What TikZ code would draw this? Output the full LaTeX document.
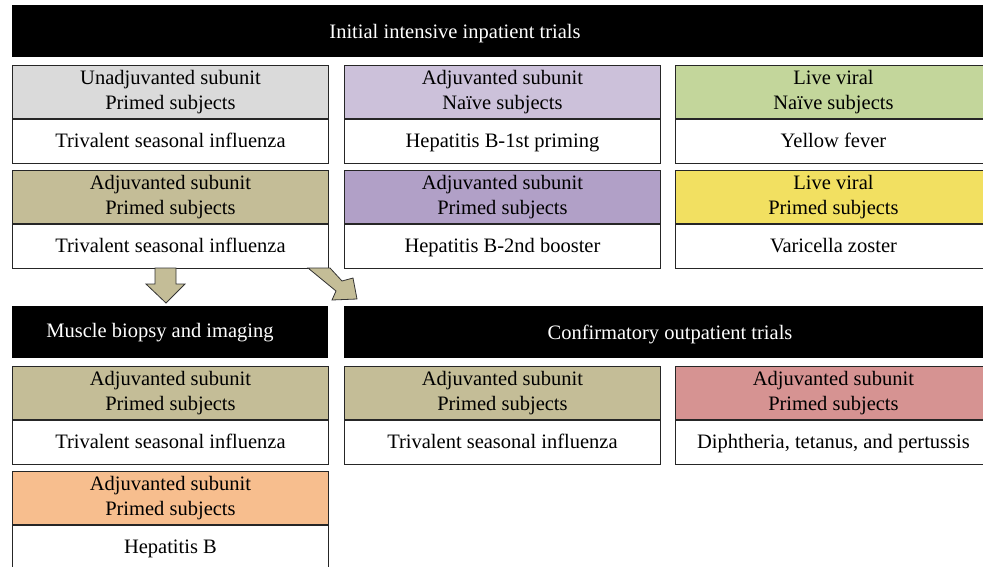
\documentclass[tikz,border=0pt]{standalone}
\usepackage{fontspec}
\setmainfont{Liberation Serif}
\usetikzlibrary{positioning}
\definecolor{cgray}{HTML}{DADADA}
\definecolor{clilac}{HTML}{CCC1DA}
\definecolor{cgreen}{HTML}{C3D69B}
\definecolor{ckhaki}{HTML}{C4BD97}
\definecolor{cpurple}{HTML}{B1A0C7}
\definecolor{cyellow}{HTML}{F2E061}
\definecolor{cpink}{HTML}{D69392}
\definecolor{corange}{HTML}{F7BE8E}
\tikzset{
	bar/.style={fill=black,minimum height=52pt,inner sep=0pt,anchor=north west},
	bartext/.style={text=white,font=\fontsize{20.5}{25}\selectfont,inner sep=0pt,
		text height=14pt,text depth=4pt},
	hdr/.style={draw=black!85,line width=0.9pt,fill=#1,minimum width=316pt,minimum height=53pt,
		inner sep=0pt,align=center,anchor=north west,font=\fontsize{20.5}{25}\selectfont},
	body/.style={draw=black!85,line width=0.9pt,fill=white,minimum width=316pt,minimum height=44pt,
		inner sep=0pt,below=0pt of #1,font=\fontsize{20.5}{25}\selectfont,
		text height=17pt,text depth=4pt},
	fatarrow/.style={draw=black!80,line width=0.8pt,fill=ckhaki,line join=miter}
}

\begin{document}
\begin{tikzpicture}[x=1pt,y=-1pt]
	\clip (0,0) rectangle (983,566);

	% first stage
	\node (inbar) [bar,minimum width=990pt] at (12,5) {};
	\node (intitle) [bartext] at (455,33) {Initial intensive inpatient trials};

	\node (h11) [hdr=cgray] at (12,65) {Unadjuvanted subunit\\Primed subjects};
	\node (b11) [body=h11] {Trivalent seasonal influenza};
	\node (h12) [hdr=clilac] at (344,65) {Adjuvanted subunit\\Naïve subjects};
	\node (b12) [body=h12] {Hepatitis B-1st priming};
	\node (h13) [hdr=cgreen] at (675,65) {Live viral\\Naïve subjects};
	\node (b13) [body=h13] {Yellow fever};

	\node (h21) [hdr=ckhaki] at (12,170) {Adjuvanted subunit\\Primed subjects};
	\node (b21) [body=h21] {Trivalent seasonal influenza};
	\node (h22) [hdr=cpurple] at (344,170) {Adjuvanted subunit\\Primed subjects};
	\node (b22) [body=h22] {Hepatitis B-2nd booster};
	\node (h23) [hdr=cyellow] at (675,170) {Live viral\\Primed subjects};
	\node (b23) [body=h23] {Varicella zoster};

	% second stage
	\node (musbar) [bar,minimum width=316pt] at (12,306) {};
	\node (mustitle) [bartext] at (160,332) {Muscle biopsy and imaging};
	\node (outbar) [bar,minimum width=650pt] at (344,306) {};
	\node (outtitle) [bartext] at (670,334) {Confirmatory outpatient trials};

	\node (h31) [hdr=ckhaki] at (12,366) {Adjuvanted subunit\\Primed subjects};
	\node (b31) [body=h31] {Trivalent seasonal influenza};
	\node (h32) [hdr=ckhaki] at (344,366) {Adjuvanted subunit\\Primed subjects};
	\node (b32) [body=h32] {Trivalent seasonal influenza};
	\node (h33) [hdr=cpink] at (675,366) {Adjuvanted subunit\\Primed subjects};
	\node (b33) [body=h33] {Diphtheria, tetanus, and pertussis};

	\node (h41) [hdr=corange] at (12,471) {Adjuvanted subunit\\Primed subjects};
	\node (b41) [body=h41] {Hepatitis B};

	% block arrows
	\draw [fatarrow] (155,268) -- (176,268) -- (176,284) -- (185,284) -- (166,303)
		-- (146,284) -- (155,284) -- cycle;
	\draw [fatarrow] (308,268) -- (330,268) -- (342,281) -- (353,278) -- (357,299)
		-- (332,300) -- (336,291) -- cycle;
\end{tikzpicture}
\end{document}
